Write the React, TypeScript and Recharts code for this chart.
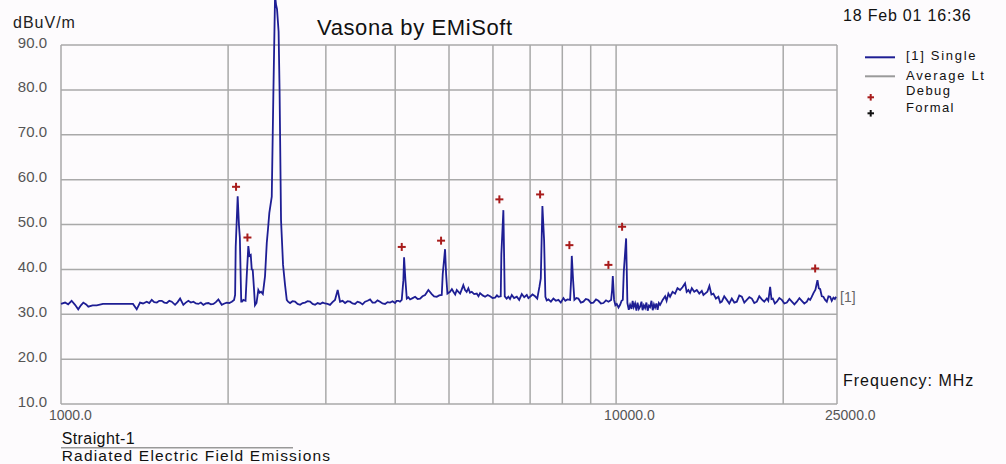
import React from 'react';
import { ComposedChart, Line, Scatter, XAxis, YAxis, CartesianGrid } from 'recharts';

// [1] Single trace, frequency in MHz and level in dBuV/m
const freqMHz = [
  1000, 1017, 1030, 1045, 1060, 1074, 1086, 1097, 1110, 1120, 1140, 1160, 1190, 1226, 1277, 1348,
  1369, 1388, 1405, 1427, 1442, 1457, 1472, 1488, 1503, 1519, 1535, 1551, 1567, 1583, 1605, 1622,
  1639, 1661, 1678, 1696, 1714, 1732, 1750, 1768, 1786, 1805, 1824, 1843, 1862, 1882, 1901, 1921,
  1948, 1970, 1989, 2010, 2031, 2050, 2059,
  2064, 2081, 2092, 2100, 2107, 2112, 2119, 2130, 2150, 2161, 2175, 2186, 2197, 2206, 2215, 2226,
  2236, 2250, 2267, 2280, 2293, 2310, 2331, 2348, 2360, 2373, 2397, 2413, 2430, 2440, 2450, 2466,
  2476, 2491, 2512, 2533, 2551, 2565, 2586, 2613, 2640, 2668, 2696, 2724, 2752, 2781, 2810, 2840,
  2869, 2899, 2929, 2960, 2990, 3021, 3052, 3084, 3116, 3151, 3182, 3215, 3249, 3283, 3317, 3351,
  3386, 3421, 3457, 3493, 3530, 3567, 3604, 3641, 3679, 3717, 3756, 3795, 3835, 3875, 3915, 3956,
  3998, 4025, 4053, 4080, 4110, 4138, 4150, 4173, 4197, 4225, 4255, 4300, 4344, 4390, 4435, 4480,
  4528, 4590, 4655, 4700, 4753, 4800, 4852, 4872, 4919, 4940, 4967, 5022, 5060, 5092, 5130, 5164,
  5200, 5236, 5270, 5306, 5344, 5380, 5418, 5455, 5495, 5550, 5610, 5650, 5688, 5750, 5807, 5870,
  5929, 5990, 6053, 6100, 6136, 6197, 6213, 6265, 6301, 6350, 6396, 6440, 6487, 6550, 6623, 6690,
  6762, 6830, 6904, 6950, 6999, 7070, 7146, 7210, 7275, 7317, 7366, 7418, 7458, 7500, 7551, 7630,
  7710, 7790, 7872, 7950, 8037, 8100, 8172, 8263, 8297, 8321, 8366, 8411, 8480, 8552, 8640, 8732,
  8820, 8915, 9010, 9102, 9200, 9293, 9390, 9488, 9590, 9686, 9795, 9835, 9864, 9917, 9970, 10029,
  10100, 10167, 10230, 10282, 10324, 10424, 10480, 10540, 10598, 10660, 10710, 10760, 10820, 10880,
  10930, 10990, 11047, 11110, 11160, 11220, 11279, 11340, 11400, 11460, 11515, 11580, 11640, 11700,
  11757, 11820, 11880, 11940, 12003, 12130, 12255, 12330, 12421, 12509, 12640, 12771, 12900, 13039,
  13170, 13312, 13400, 13496, 13590, 13688, 13830, 13975, 14120, 14268, 14365, 14465, 14600, 14725,
  14850, 14971, 15130, 15285, 15400, 15503, 15660, 15828, 15990, 16160, 16330, 16499, 16670, 16845,
  17020, 17198, 17380, 17558, 17740, 17927, 18110, 18303, 18490, 18686, 18800, 18945, 19050, 19158,
  19320, 19479, 19680, 19887, 20100, 20304, 20520, 20730, 20950, 21164, 21390, 21608, 21830, 22061,
  22210, 22365, 22500, 22674, 22860, 23054, 23180, 23314, 23470, 23627, 23800, 23965, 24130, 24296,
  24460, 24633, 24780, 24906,
];

const levelDb = [
  32.3, 32.6, 32.2, 33.0, 32.1, 31.1, 32.0, 32.6, 32.2, 31.7, 32.0, 32.0, 32.3, 32.3, 32.3, 32.3,
  31.1, 32.6, 32.4, 32.8, 32.5, 33.2, 32.7, 32.6, 33.0, 33.0, 32.6, 32.5, 33.0, 32.8, 32.1, 32.7,
  33.5, 32.1, 32.6, 33.0, 32.6, 32.8, 32.4, 32.3, 32.6, 32.1, 32.4, 32.5, 32.2, 32.3, 32.7, 33.3,
  32.1, 32.4, 32.6, 32.5, 32.8, 33.2, 34.3,
  45.0, 56.3, 49.9, 47.0, 38.4, 32.8, 32.8, 33.2, 33.0, 38.7, 45.2, 43.0, 43.2, 40.0, 39.9, 36.0,
  32.0, 32.5, 35.4, 34.8, 35.0, 34.5, 38.5, 45.9, 49.0, 52.6, 56.2, 79.0, 101.0, 99.0, 98.0, 93.0,
  80.0, 51.0, 41.0, 36.5, 33.2, 32.8, 32.5, 32.9, 32.8, 32.3, 32.1, 32.5, 32.6, 32.9, 32.8, 32.3,
  32.1, 32.5, 32.3, 32.6, 32.4, 32.3, 32.1, 32.7, 33.2, 35.4, 32.8, 33.0, 32.5, 32.9, 32.8, 32.4,
  32.3, 32.8, 32.6, 32.2, 32.8, 33.0, 33.3, 32.6, 32.6, 33.1, 32.8, 32.4, 32.3, 32.7, 32.6, 32.9,
  32.5, 33.0, 33.0, 32.8, 33.2, 37.6, 42.7, 37.6, 33.5, 33.8, 33.3, 33.6, 33.9, 33.4, 33.5, 34.0,
  34.3, 35.4, 34.5, 34.0, 33.9, 34.2, 34.3, 39.0, 44.5, 39.0, 34.6, 35.0, 35.6, 35.0, 34.4, 35.4,
  35.0, 34.6, 35.5, 36.5, 35.4, 35.0, 35.8, 34.8, 35.0, 34.5, 34.6, 34.0, 34.7, 34.2, 33.9, 34.3,
  34.0, 33.6, 33.7, 34.2, 33.9, 34.0, 43.4, 53.2, 34.0, 33.5, 33.9, 33.4, 34.3, 33.6, 33.9, 33.2,
  34.5, 33.8, 34.3, 33.6, 33.9, 34.4, 34.0, 33.5, 36.1, 38.0, 54.1, 46.5, 33.9, 33.1, 33.3, 32.8,
  33.5, 33.0, 33.2, 32.6, 33.6, 33.0, 33.3, 33.2, 37.6, 43.0, 37.6, 33.2, 33.6, 33.5, 32.6, 32.8,
  33.4, 33.2, 32.5, 32.6, 33.3, 33.0, 32.4, 32.5, 33.1, 32.8, 33.2, 35.4, 38.5, 33.2, 32.0, 32.3,
  31.5, 32.1, 33.0, 33.2, 39.5, 46.9, 32.5, 31.0, 32.1, 31.2, 33.0, 31.6, 32.4, 30.8,
  32.6, 31.2, 31.7, 32.8, 30.9, 32.0, 31.4, 32.6, 30.8, 31.9, 31.6, 33.0, 30.9, 32.2,
  31.5, 32.4, 31.0, 32.5, 32.1, 33.2, 34.0, 33.0, 34.6, 33.9, 35.0, 34.6, 35.8, 35.4,
  36.0, 36.9, 35.0, 35.4, 34.8, 35.8, 35.0, 35.4, 34.6, 35.2, 34.3, 34.6, 35.0, 36.3,
  34.4, 34.6, 33.5, 33.9, 32.6, 32.8, 34.0, 33.2, 32.4, 33.5, 32.6, 32.8, 34.2, 33.9,
  32.6, 33.2, 33.8, 33.5, 32.5, 32.8, 34.0, 33.3, 32.8, 33.5, 33.0, 36.1, 33.4, 33.5,
  32.4, 32.8, 33.6, 33.2, 32.4, 32.6, 33.4, 32.8, 32.2, 32.8, 33.6, 33.0, 32.4, 32.8,
  33.5, 33.2, 33.8, 34.7, 35.5, 37.6, 35.8, 35.6, 34.0, 33.9, 33.2, 32.8, 34.0, 33.9,
  33.0, 33.7, 33.4, 33.9,
];

// Debug markers
const debugFreqMHz = [2067, 2167, 4110, 4838, 6162, 7296, 8239, 9686, 10252, 22835];
const debugLevelDb = [58.4, 47.1, 45.0, 46.4, 55.6, 56.7, 45.4, 41.0, 49.5, 40.2];

const gridFreqs = [1000, 2000, 3000, 4000, 5000, 6000, 7000, 8000, 9000, 10000, 20000, 25000];
const labelledFreqs = [1000, 10000, 25000];
const levelTicks = [10, 20, 30, 40, 50, 60, 70, 80, 90];

const trace = freqMHz.map((f, i) => ({ f, v: levelDb[i] }));
const debugPoints = debugFreqMHz.map((f, i) => ({ f, v: debugLevelDb[i] }));

const FONT = '"Liberation Sans", Arial, sans-serif';
const TRACE = '#1e1e94';
const DEBUG = '#a81c1c';

const XTick = ({ x, y, payload }: any) =>
  labelledFreqs.includes(payload.value) ? (
    <text x={x - 12} y={y + 16} fontSize={14} fill="#555" fontFamily={FONT}>
      {payload.value.toFixed(1)}
    </text>
  ) : (
    <g />
  );

const YTick = ({ x, y, payload }: any) => (
  <text x={x - 14} y={y + 2.5} textAnchor="end" fontSize={15} fill="#555" fontFamily={FONT}>
    {payload.value.toFixed(1)}
  </text>
);

const Cross = ({ cx, cy }: any) => (
  <g stroke={DEBUG} strokeWidth={2}>
    <line x1={cx - 4} x2={cx + 4} y1={cy} y2={cy} />
    <line x1={cx} x2={cx} y1={cy - 4} y2={cy + 4} />
  </g>
);

const EndLabel = ({ x, y, index }: any) =>
  index === trace.length - 1 ? (
    <text x={x + 4} y={y + 5} fontSize={14} fill="#666" fontFamily={FONT}>
      [1]
    </text>
  ) : (
    <g />
  );

export default function App() {
  return (
    <div style={{ position: 'absolute', left: 0, top: 0, width: 1006, height: 464, background: '#fdfbfd' }}>
      <style>{'.recharts-line, .recharts-line * { clip-path: none !important; }'}</style>
      <ComposedChart width={1006} height={464} margin={{ top: 45, right: 169, bottom: 0, left: 0 }}>
        <CartesianGrid stroke="#a9a9a9" strokeWidth={1.5} fill="none" />
        <XAxis
          dataKey="f"
          type="number"
          scale="log"
          domain={[1000, 25000]}
          ticks={gridFreqs}
          interval={0}
          height={60}
          tickSize={0}
          tickMargin={0}
          axisLine={false}
          tickLine={false}
          tick={<XTick />}
          allowDataOverflow
        />
        <YAxis
          type="number"
          domain={[10, 90]}
          ticks={levelTicks}
          width={61}
          tickSize={0}
          tickMargin={0}
          axisLine={false}
          tickLine={false}
          tick={<YTick />}
          allowDataOverflow
        />
        <Line
          data={trace}
          dataKey="v"
          stroke={TRACE}
          strokeWidth={1.8}
          dot={false}
          type="linear"
          isAnimationActive={false}
          label={<EndLabel />}
        />
        <Scatter data={debugPoints} dataKey="v" shape={<Cross />} isAnimationActive={false} />
      </ComposedChart>
      <svg
        width={1006}
        height={464}
        style={{ position: 'absolute', left: 0, top: 0, pointerEvents: 'none' }}
        fontFamily={FONT}
      >
        <text x={317} y={35} fontSize={22} letterSpacing={0.6} fill="#111">
          Vasona by EMiSoft
        </text>
        <text x={843} y={20.5} fontSize={16} letterSpacing={0.8} fill="#111">
          18 Feb 01 16:36
        </text>
        <text x={13} y={28} fontSize={16} letterSpacing={1} fill="#222">
          dBuV/m
        </text>
        <line x1={865} x2={895} y1={57.3} y2={57.3} stroke={TRACE} strokeWidth={2} />
        <text x={906} y={60} fontSize={13} letterSpacing={1.7} fill="#111">
          [1] Single
        </text>
        <line x1={865} x2={895} y1={76.3} y2={76.3} stroke="#9a9a9a" strokeWidth={2} />
        <text x={906} y={80} fontSize={13} letterSpacing={1.7} fill="#111">
          Average Lt
        </text>
        <g stroke={DEBUG} strokeWidth={2}>
          <line x1={867.5} x2={874} y1={97.3} y2={97.3} />
          <line x1={870.7} x2={870.7} y1={94} y2={100.6} />
        </g>
        <text x={906} y={95} fontSize={13} letterSpacing={1.4} fill="#111">
          Debug
        </text>
        <g stroke="#111" strokeWidth={2}>
          <line x1={867.5} x2={874} y1={113.3} y2={113.3} />
          <line x1={870.7} x2={870.7} y1={110} y2={116.6} />
        </g>
        <text x={906} y={111.7} fontSize={13} letterSpacing={1.4} fill="#111">
          Formal
        </text>
        <text x={843} y={385.7} fontSize={16} letterSpacing={1} fill="#111">
          Frequency: MHz
        </text>
        <text x={61.7} y={443.5} fontSize={16} letterSpacing={0.4} fill="#111">
          Straight-1
        </text>
        <line x1={61} x2={293} y1={447.7} y2={447.7} stroke="#999" strokeWidth={1.5} />
        <text x={61.7} y={460.5} fontSize={15.5} letterSpacing={1.2} fill="#111">
          Radiated Electric Field Emissions
        </text>
      </svg>
    </div>
  );
}
